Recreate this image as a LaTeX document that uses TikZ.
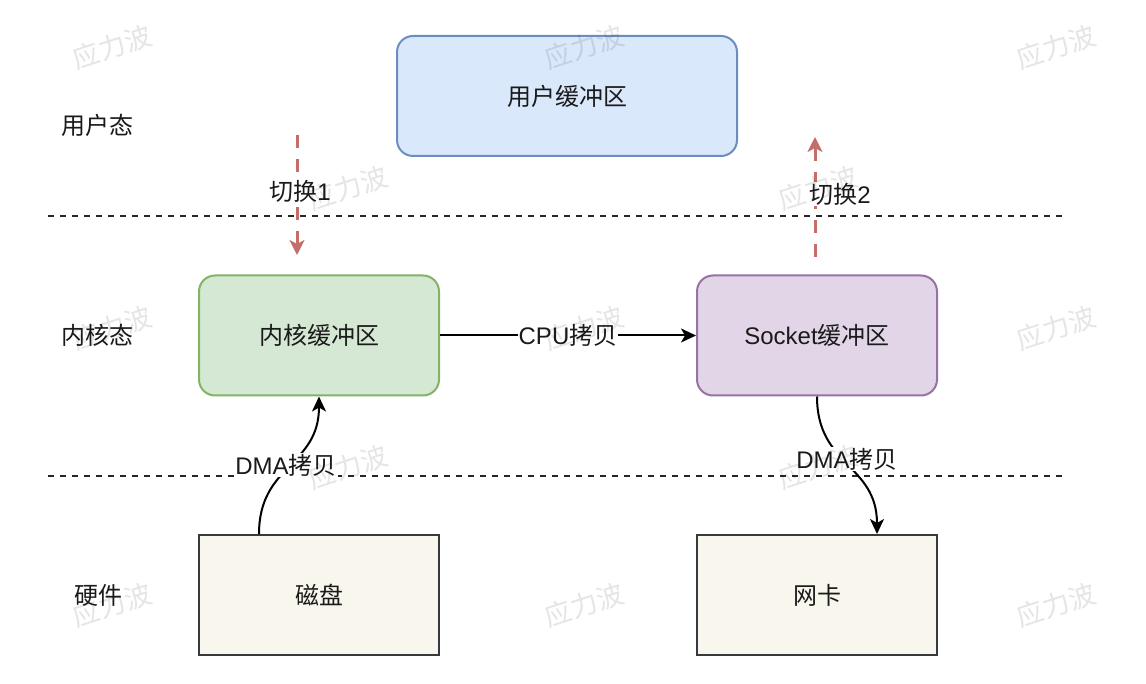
\documentclass[tikz,border=0pt]{standalone}
\usepackage{fontspec}
\setmainfont{Liberation Sans}
\newfontfamily\cjk{Noto Sans CJK SC}
\usetikzlibrary{arrows.meta}
\definecolor{ubfill}{HTML}{DAE8FC}\definecolor{ubline}{HTML}{6C8EBF}
\definecolor{kbfill}{HTML}{D5E8D4}\definecolor{kbline}{HTML}{82B366}
\definecolor{sbfill}{HTML}{E1D5E7}\definecolor{sbline}{HTML}{9673A6}
\definecolor{hwfill}{HTML}{F9F7ED}\definecolor{hwline}{HTML}{36393D}
\definecolor{swred}{HTML}{B85450}
\definecolor{txt}{HTML}{1A1A1A}
\begin{document}
\begin{tikzpicture}[x=1pt,y=-1pt,
 every node/.style={font=\fontsize{24}{28}\selectfont, text=txt},
 box/.style={draw, line width=2pt, minimum width=240pt, minimum height=120pt, inner sep=0pt},
 rbox/.style={box, rounded corners=16pt},
 conn/.style={draw=black, line width=2pt, -{Stealth[length=15pt,width=14pt,inset=4pt]}},
 sw/.style={draw=swred!85, line width=3pt, dash pattern=on 13pt off 11pt, -{Stealth[length=15pt,width=15pt,inset=4pt]}},
 sep/.style={line width=2pt, dash pattern=on 6pt off 6pt, draw=black!85},
 lbl/.style={fill=white, inner sep=1pt},
 wm/.style={font=\cjk\fontsize{27}{30}\selectfont, text=black, text opacity=0.1, rotate=18}
]
\useasboundingbox (0,0) rectangle (1146,684);
\fill[white] (0,0) rectangle (1146,684);

% separators
\coordinate (d1a) at (48,216); \coordinate (d1b) at (1063,216);
\coordinate (d2a) at (48,476); \coordinate (d2b) at (1065,476);
\draw[sep] (d1a) -- (d1b);
\draw[sep] (d2a) -- (d2b);

% boxes
\node[rbox, draw=ubline, fill=ubfill, minimum width=340pt] (ub) at (567,96) {\cjk 用户缓冲区};
\node[rbox, draw=kbline, fill=kbfill] (kb) at (319,335.5) {\cjk 内核缓冲区};
\node[rbox, draw=sbline, fill=sbfill] (sb) at (817,335.5) {Socket{\cjk 缓冲区}};
\node[box, draw=hwline, fill=hwfill] (disk) at (319,595) {\cjk 磁盘};
\node[box, draw=hwline, fill=hwfill] (nic) at (817,595) {\cjk 网卡};

% side labels
\node (lu) at (97,125) {\cjk 用户态};
\node (lk) at (97,335) {\cjk 内核态};
\node (lh) at (98,595) {\cjk 硬件};

% connectors
\draw[conn] (kb.east) -- node[lbl]{CPU{\cjk 拷贝}} (sb.west);
\draw[conn] ([xshift=-60pt]disk.north) .. controls +(0,-70) and +(0,70) .. (kb.south)
  node[lbl, pos=0.5, xshift=-3pt]{DMA{\cjk 拷贝}};
\draw[conn] (sb.south) .. controls +(0,70) and +(0,-70) .. ([xshift=60pt]nic.north)
  node[lbl, pos=0.5, yshift=6pt]{DMA{\cjk 拷贝}};

% switches
\coordinate (s1a) at (297,135); \coordinate (s1b) at (297,255);
\coordinate (s2a) at (815,257); \coordinate (s2b) at (815,137);
\draw[sw] (s1a) -- node[lbl, xshift=3pt, yshift=4pt]{{\cjk 切换}1} (s1b);
\draw[sw] (s2a) -- node[lbl, xshift=25pt, yshift=3pt]{{\cjk 切换}2} (s2b);

% watermarks
\foreach \p/\q in {112/47,584/47,1056/47,348/188,818/188,112/328,584/328,1056/328,348/467,818/467,112/605,584/605,1056/605}
  \node[wm] at (\p,\q) {应力波};
\end{tikzpicture}
\end{document}
